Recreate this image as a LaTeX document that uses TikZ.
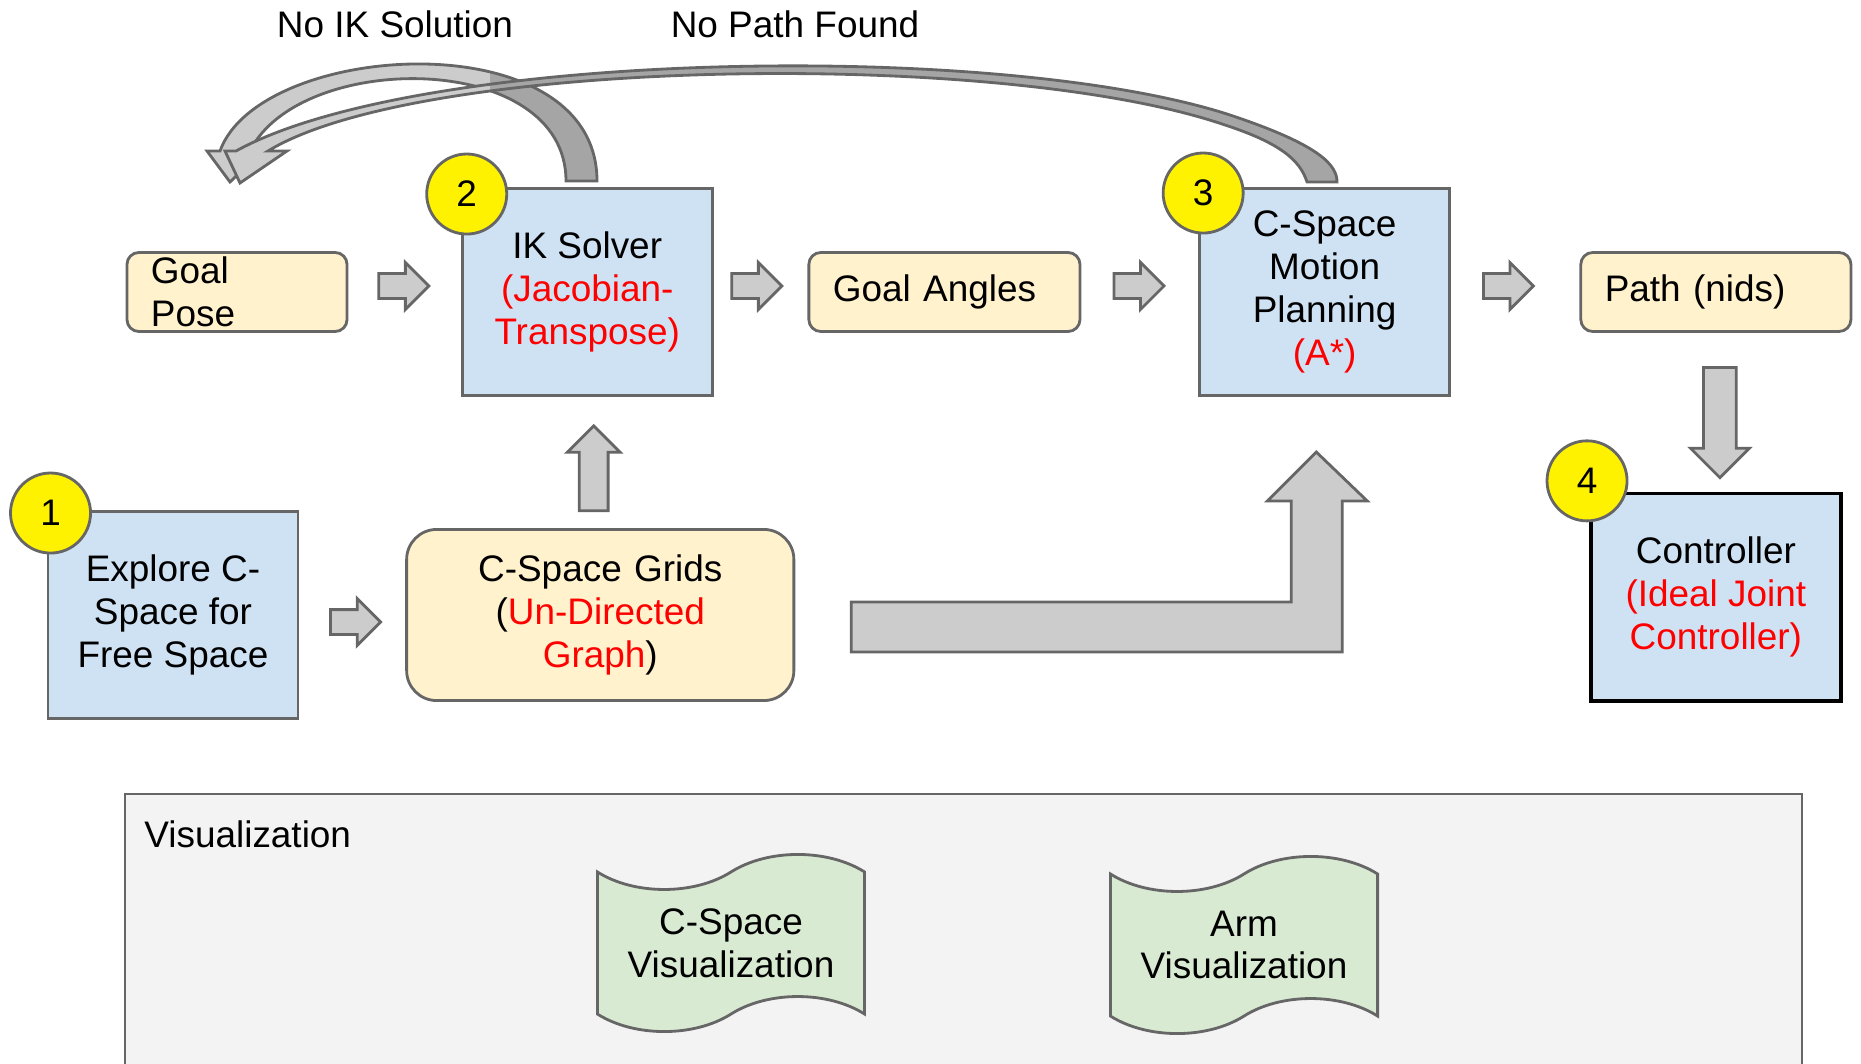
\documentclass[tikz,border=0pt]{standalone}
\usepackage{fontspec}
\setmainfont{Liberation Sans}
\usetikzlibrary{shapes.arrows, shapes.symbols, calc}
\definecolor{boxblue}{HTML}{CFE2F3}
\definecolor{boxyellow}{HTML}{FFF2CC}
\definecolor{boxgreen}{HTML}{D9EAD3}
\definecolor{linegray}{HTML}{666666}
\definecolor{arrowgray}{HTML}{CCCCCC}
\definecolor{arrowdark}{HTML}{A5A5A5}
\definecolor{panelgray}{HTML}{F3F3F3}
\tikzstyle{every node} = [font=\fontsize{10.5}{12.2}\selectfont]
\tikzstyle{pblock} = [rectangle, minimum width=2.5cm, minimum height=2.07cm, text centered, align=center, draw=linegray, line width=0.8pt, fill=boxblue]
\tikzstyle{pdata} = [rectangle, rounded corners=0.12cm, minimum height=0.79cm, inner xsep=0.24cm, inner ysep=0pt, align=left, draw=linegray, line width=0.8pt, fill=boxyellow]
\tikzstyle{pview} = [tape, minimum width=2.67cm, minimum height=1.77cm, tape bend height=0.35cm, align=center, draw=linegray, line width=0.8pt, fill=boxgreen]
\tikzstyle{pnum} = [circle, minimum size=0.8cm, inner sep=0pt, draw=linegray, line width=0.8pt, fill=yellow]
\tikzstyle{parrow} = [single arrow, inner sep=0.11cm, minimum height=0.5cm, single arrow head extend=0.11cm, draw=linegray, line width=0.8pt, fill=arrowgray]
\tikzstyle{pbend} = [draw=linegray, line width=0.8pt, fill=arrowgray]
\tikzstyle{ploop} = [draw=linegray, line width=0.8pt, fill=arrowgray, path picture={\fill[arrowdark] (490,0) rectangle (1400,200);}]

\begin{document}
\begin{tikzpicture}[node distance=3.5cm, x=0.01cm, y=-0.01cm]
\useasboundingbox (0,0) rectangle (1861,1064);
\draw [fill=panelgray, draw=linegray, line width=0.8pt] (125,794) rectangle (1802,1090);
\node (vislabel) [anchor=west] at (132,834) {Visualization};
\node (csview) [pview] at (731,943) {C-Space\\Visualization};
\node (armview) [pview] at (1244,945) {Arm\\Visualization};

\node (pose) [pdata, text width=1.72cm] at (237,292) {Goal\\Pose};
\node (ik) [pblock, right of=pose] {IK Solver\\\textcolor{red}{(Jacobian-}\\\textcolor{red}{Transpose)}};
\node (angles) [pdata, text width=2.23cm, right of=ik, xshift=0.07cm] {Goal Angles};
\node (motion) [pblock, right of=angles, xshift=0.3cm] {C-Space\\Motion\\Planning\\\textcolor{red}{(A*)}};
\node (path) [pdata, text width=2.22cm, right of=motion, xshift=0.41cm] {Path (nids)};
\node (explore) [pblock] at (173,615) {Explore C-\\Space for\\Free Space};
\node (grids) [pdata, text width=3.39cm, minimum height=1.71cm, rounded corners=0.3cm, align=center, right of=explore, xshift=0.77cm] {C-Space Grids\\(\textcolor{red}{Un-Directed}\\\textcolor{red}{Graph})};
\node (controller) [pblock, draw=black, line width=1pt, below of=path, yshift=0.45cm] {Controller\\\textcolor{red}{(Ideal Joint}\\\textcolor{red}{Controller)}};

\node (num1) [pnum] at ($(explore.north west)+(4,3)$) {1};
\node (num2) [pnum] at ($(ik.north west)+(6,7)$) {2};
\node (num3) [pnum] at ($(motion.north west)+(5,6)$) {3};
\node (num4) [pnum] at ($(controller.north west)+(-2,-11)$) {4};

\node (toik) [parrow, xshift=-0.07cm, yshift=0.06cm] at ($(pose.east)!0.5!(ik.west)$) {};
\node (toangles) [parrow, xshift=-0.1cm, yshift=0.06cm] at ($(ik.east)!0.5!(angles.west)$) {};
\node (tomotion) [parrow, xshift=-0.07cm, yshift=0.06cm] at ($(angles.east)!0.5!(motion.west)$) {};
\node (topath) [parrow, xshift=-0.13cm, yshift=0.06cm] at ($(motion.east)!0.5!(path.west)$) {};
\node (togrids) [parrow, xshift=-0.03cm, yshift=-0.07cm] at ($(explore.east)!0.5!(grids.west)$) {};
\node (upik) [parrow, shape border rotate=90, inner sep=0.13cm, single arrow head extend=0.12cm, minimum height=0.85cm, yshift=-0.13cm] at ($(ik.south)!0.5!(grids.north)$) {};
\node (downctl) [parrow, shape border rotate=270, inner sep=0.15cm, single arrow head extend=0.13cm, minimum height=1.1cm, xshift=0.04cm, yshift=-0.02cm] at ($(path.south)!0.5!(controller.north)$) {};

\coordinate (bstart) at ($(grids.east)+(56,12)$);
\draw [pbend] (bstart) ++(0,-25) -- ++(440,0) -- ++(0,-101) -- ++(-24,0) -- ++(49,-49) -- ++(51,49) -- ++(-25,0) -- ++(0,151) -- ++(-491,0) -- cycle;

\draw [ploop] (597,181) .. controls (597,20) and (260,40) .. (220,151) -- (207,151) -- (230,182) -- (262,151) -- (250,151) .. controls (300,50) and (566,50) .. (566,181) -- cycle;
\draw [ploop] (1337,182) .. controls (1337,165) and (1320,145) .. (1230,115) .. controls (1000,40) and (420,50) .. (236,151) -- (225,151) -- (240,183) -- (287,151) -- (268,151) .. controls (420,58) and (1000,48) .. (1225,125) .. controls (1280,143) and (1300,160) .. (1307,182) -- cycle;
\node (noik) at (395,24) {No IK Solution};
\node (nopath) at (795,24) {No Path Found};
\end{tikzpicture}
\end{document}
